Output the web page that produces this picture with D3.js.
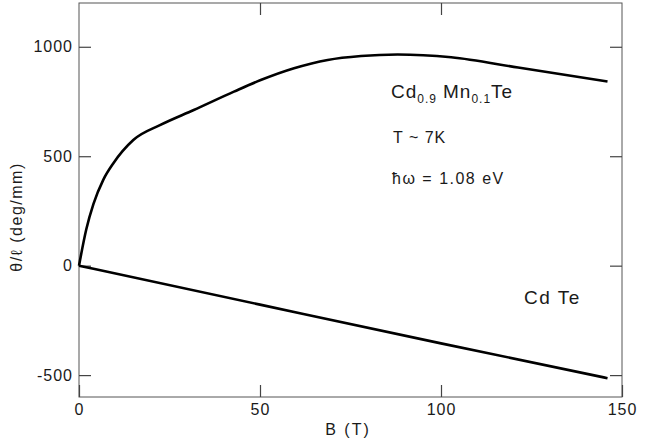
<!DOCTYPE html>
<html>
<head>
<meta charset="utf-8">
<script src="https://cdn.jsdelivr.net/npm/d3@7"></script>
<style>
	body { margin: 0; background: #fff; }
	svg text { font-family: "Liberation Sans", Arial, sans-serif; fill: #1a1a1a; }
</style>
</head>
<body>
<div id="chart"></div>
<script>
// values
const mnFieldT = [0, 2, 4, 6.7, 9.5, 15, 22.5, 31.7, 42.8, 50.2, 59.4, 68.7, 77.9, 88, 102.8, 121.3, 146];
const mnRotation = [0, 165, 282, 392, 468, 574, 643, 711, 795, 848, 902, 940, 958, 965, 952, 905, 841];
const cdFieldT = [0, 50, 100, 146];
const cdRotation = [0, -178, -355, -514];
const xTicks = [0, 50, 100, 150];
const yTicks = [-500, 0, 500, 1000];

var width = 647, height = 439;
var margin = {top: 3, right: 25, bottom: 42, left: 79};
var plotW = width - margin.left - margin.right;
var plotH = height - margin.top - margin.bottom;

var svg = d3.select('#chart')
	.append('svg')
		.attr('width', width)
		.attr('height', height);

var g = svg.append('g')
	.attr('transform', 'translate(' + margin.left + ',' + margin.top + ')');

var x = d3.scaleLinear().domain([0, 150]).range([0, plotW]);
var y = d3.scaleLinear().domain([-600, 1200]).range([plotH, 0]);

// frame
g.append('rect')
	.attr('width', plotW)
	.attr('height', plotH)
	.attr('fill', 'none')
	.attr('stroke', '#555')
	.attr('stroke-width', 1);

function styleAxis(sel) {
	sel.select('.domain').remove();
	sel.selectAll('line').attr('stroke', '#444').attr('stroke-width', 1.2);
	sel.selectAll('text')
		.style('font-size', '16px')
		.style('letter-spacing', '1px')
		.attr('fill', '#1a1a1a');
}

g.append('g')
	.attr('transform', 'translate(0,' + plotH + ')')
	.call(d3.axisBottom(x).tickValues(xTicks).tickSizeInner(-12).tickSizeOuter(0).tickPadding(7))
	.call(styleAxis);

g.append('g')
	.call(d3.axisTop(x).tickValues(xTicks.slice(1, 3)).tickSizeInner(-12).tickSizeOuter(0).tickFormat(''))
	.call(styleAxis);

g.append('g')
	.call(d3.axisLeft(y).tickValues(yTicks).tickSizeInner(-12).tickSizeOuter(0).tickPadding(6)
		.tickFormat(d => d < 0 ? '-' + Math.abs(d) : d))
	.call(styleAxis);

g.append('g')
	.attr('transform', 'translate(' + plotW + ',0)')
	.call(d3.axisRight(y).tickValues(yTicks).tickSizeInner(-12).tickSizeOuter(0).tickFormat(''))
	.call(styleAxis);

// curves
var line = d3.line()
	.x(d => x(d[0]))
	.y(d => y(d[1]))
	.curve(d3.curveMonotoneX);

g.append('path')
	.datum(d3.zip(mnFieldT, mnRotation))
	.attr('d', line)
	.attr('fill', 'none')
	.attr('stroke', '#000')
	.attr('stroke-width', 2.6);

g.append('path')
	.datum(d3.zip(cdFieldT, cdRotation))
	.attr('d', line)
	.attr('fill', 'none')
	.attr('stroke', '#000')
	.attr('stroke-width', 2.6);

// axis titles
svg.append('text')
	.attr('x', 348)
	.attr('y', 435)
	.attr('text-anchor', 'middle')
	.style('font-size', '16px')
	.style('letter-spacing', '2px')
	.text('B (T)');

svg.append('text')
	.attr('transform', 'translate(22,217) rotate(-90)')
	.attr('text-anchor', 'middle')
	.style('font-size', '16px')
	.style('letter-spacing', '1.5px')
	.text('θ/ℓ (deg/mm)');

// annotations
var mn = svg.append('text')
	.attr('x', 391)
	.attr('y', 98)
	.style('font-size', '19px')
	.style('letter-spacing', '1px');
mn.append('tspan').text('Cd');
mn.append('tspan').attr('dy', 5).style('font-size', '12px').text('0.9');
mn.append('tspan').attr('dx', 6).attr('dy', -5).text('Mn');
mn.append('tspan').attr('dy', 5).style('font-size', '12px').text('0.1');
mn.append('tspan').attr('dy', -5).text('Te');

svg.append('text')
	.attr('x', 393)
	.attr('y', 143)
	.style('font-size', '16px')
	.style('letter-spacing', '1px')
	.text('T  ~  7K');

svg.append('text')
	.attr('x', 392)
	.attr('y', 184)
	.style('font-size', '16px')
	.style('letter-spacing', '1.5px')
	.text('ħω = 1.08 eV');

svg.append('text')
	.attr('x', 524)
	.attr('y', 304)
	.style('font-size', '19px')
	.style('letter-spacing', '1.5px')
	.text('Cd  Te');
</script>
</body>
</html>
